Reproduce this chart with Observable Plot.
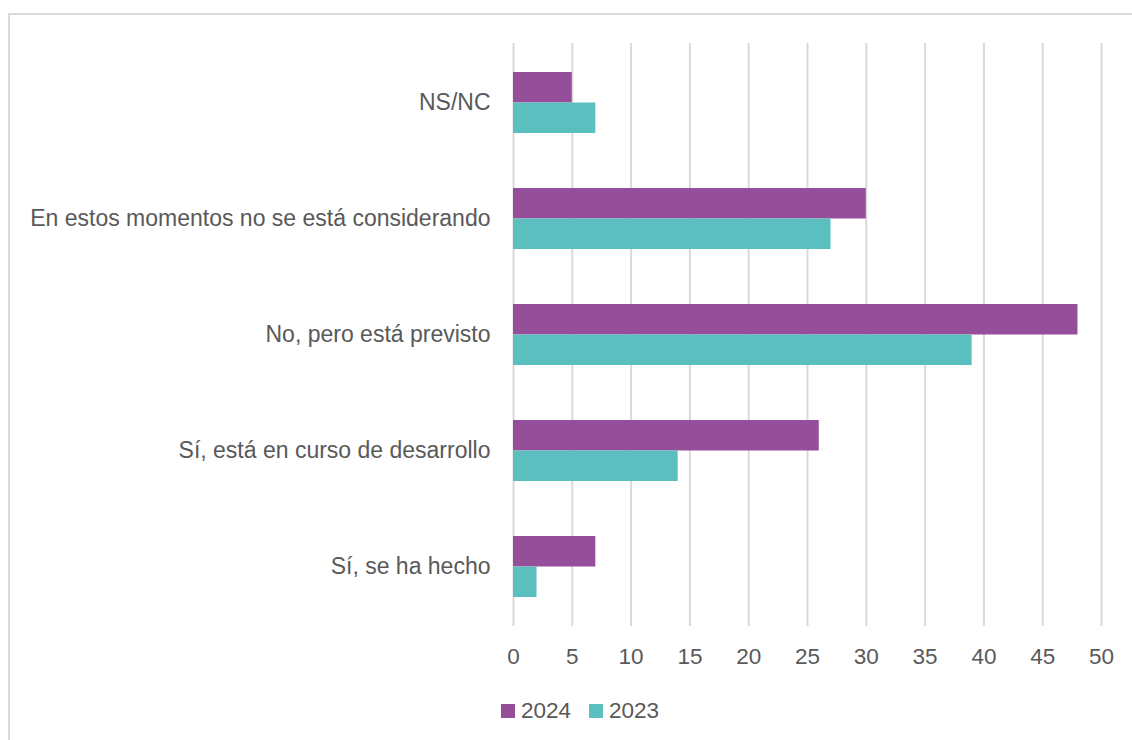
<!DOCTYPE html>
<html>
<head>
<meta charset="utf-8">
<script src="https://cdn.jsdelivr.net/npm/d3@7"></script>
<script src="https://cdn.jsdelivr.net/npm/@observablehq/plot@0.6"></script>
<style>
  html, body { margin: 0; padding: 0; background: #fff; overflow: hidden; }
  #wrap { position: relative; width: 1132px; height: 740px; font-family: "Liberation Sans", Arial, sans-serif; }
  #border { position: absolute; left: 8px; top: 13px; width: 1200px; height: 800px; border: 2px solid #d9d9d9; box-sizing: border-box; }
  #chart { position: absolute; left: 0; top: 0; }
  #legend { position: absolute; left: 501px; top: 698px; display: flex; align-items: center; font-size: 22.5px; color: #595959; }
  .item { display: flex; align-items: center; margin-right: 18px; }
  .sw { width: 14px; height: 14px; margin-right: 6px; }
  #chart g[aria-label="y-axis tick label"] text { font-size: 23px; }
</style>
</head>
<body>
<div id="wrap">
  <div id="border"></div>
  <div id="chart"></div>
  <div id="legend"></div>
</div>
<script>
const categories = ["NS/NC", "En estos momentos no se está considerando", "No, pero está previsto", "Sí, está en curso de desarrollo", "Sí, se ha hecho"];
const values2024 = [5, 30, 48, 26, 7];
const values2023 = [7, 27, 39, 14, 2];
const series = ["2024", "2023"];
const colors = ["#954F9A", "#5BBFBF"];
const xTicks = [0, 5, 10, 15, 20, 25, 30, 35, 40, 45, 50];

const data2024 = categories.map((c, i) => ({category: c, value: values2024[i]}));
const data2023 = categories.map((c, i) => ({category: c, value: values2023[i]}));

const bw = 61;
const plot = Plot.plot({
  width: 1132,
  height: 680,
  marginLeft: 513,
  marginRight: 31,
  marginTop: 43,
  marginBottom: 54,
  style: {fontSize: "22.5px", fontFamily: "'Liberation Sans', Arial, sans-serif", color: "#595959", background: "transparent"},
  x: {domain: [0, 50], ticks: xTicks, tickSize: 0, tickPadding: 22, label: null},
  y: {domain: categories, paddingInner: 0.477, paddingOuter: 0.2385, tickSize: 0, tickPadding: 23, label: null},
  marks: [
    Plot.ruleX(xTicks, {stroke: "#d9d9d9", strokeWidth: 2}),
    Plot.barX(data2024, {x: "value", y: "category", fill: colors[0], insetBottom: bw / 2}),
    Plot.barX(data2023, {x: "value", y: "category", fill: colors[1], insetTop: bw / 2})
  ]
});
document.getElementById("chart").appendChild(plot);

const legend = document.getElementById("legend");
series.forEach((s, i) => {
  const item = document.createElement("div");
  item.className = "item";
  const sw = document.createElement("div");
  sw.className = "sw";
  sw.style.background = colors[i];
  const t = document.createElement("span");
  t.textContent = s;
  item.appendChild(sw);
  item.appendChild(t);
  legend.appendChild(item);
});
</script>
</body>
</html>
